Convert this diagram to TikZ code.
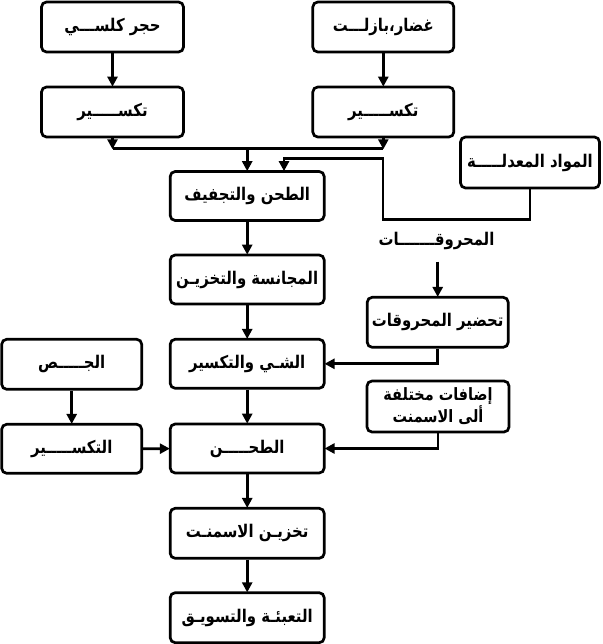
\documentclass[tikz,border=0pt]{standalone}
\usepackage{fontspec}
\usetikzlibrary{arrows.meta}
\newfontfamily\arfont[Script=Arabic,FakeStretch=0.85]{DejaVu Sans}
\TeXXeTstate=1
\tikzset{
  box/.style={draw, line width=2.7pt, rounded corners=5pt, inner sep=0pt,
    font=\arfont\bfseries\fontsize{17.5}{19}\selectfont, align=center},
  conn/.style={line width=2.7pt},
  arr/.style={conn, -{Triangle[length=10pt,width=10pt]}, shorten >=-1pt},
  lbl/.style={font=\arfont\bfseries\fontsize{17.5}{19}\selectfont}
}
\begin{document}
\begin{tikzpicture}[x=1pt,y=-1pt]
\useasboundingbox (0,0) rectangle (602,644);
% boxes
\node[box, minimum width=142pt, minimum height=50pt] (A) at (112.5,27) {\beginR حجر كلســـي\endR};
\node[box, minimum width=141pt, minimum height=50pt] (B) at (383.3,27) {\beginR غضار،بازلـــت\endR};
\node[box, minimum width=142pt, minimum height=50pt] (C) at (112.5,112) {\beginR تكســـــير\endR};
\node[box, minimum width=141pt, minimum height=50pt] (D) at (383.3,112) {\beginR تكســـــير\endR};
\node[box, minimum width=154pt, minimum height=49pt] (E) at (247.2,196) {\beginR الطحن والتجفيف\endR};
\node[box, minimum width=139pt, minimum height=51pt] (F) at (530,162.5) {\beginR المواد المعدلـــــة\endR};
\node[lbl] (lab) at (436.5,241) {\beginR المحروقـــــــات\endR};
\node[box, minimum width=154pt, minimum height=49pt] (G) at (247.2,279.5) {\beginR المجانسة والتخزيـن\endR};
\node[box, minimum width=141pt, minimum height=50pt] (H) at (437.7,322.3) {\beginR تحضير المحروقات\endR};
\node[box, minimum width=154pt, minimum height=49pt] (I) at (247.2,363.8) {\beginR الشـي والتكسير\endR};
\node[box, minimum width=140pt, minimum height=50pt] (J) at (71.7,364.3) {\beginR الجـــــص\endR};
\node[box, minimum width=140pt, minimum height=49pt] (K) at (71.7,448.8) {\beginR التكســـــير\endR};
\node[box, minimum width=142pt, minimum height=51pt, font=\arfont\bfseries\fontsize{17}{17.5}\selectfont] (L) at (438,406.5) {\beginR إضافات مختلفة\endR\\\beginR ألى الاسمنت\endR};
\node[box, minimum width=154pt, minimum height=49pt] (M) at (247.2,448.5) {\beginR الطحـــــن\endR};
\node[box, minimum width=154pt, minimum height=50pt] (N) at (247.2,533.3) {\beginR تخزيـن الاسمنـت\endR};
\node[box, minimum width=154pt, minimum height=50pt] (O) at (247.2,617.7) {\beginR التعبئـة والتسويـق\endR};
% coordinates
\coordinate (cl) at (C.south |- 0,148.3);
\coordinate (dl) at (D.south |- 0,148.3);
\coordinate (ml) at (E.north |- 0,148.3);
\coordinate (f1) at (F.south |- 0,219.3);
\coordinate (f2) at (383,219.3);
\coordinate (f3) at (383,158.3);
\coordinate (f4) at (284,158.3);
\coordinate (f5) at (284,0 |- E.north);
\coordinate (lt) at (H.north |- 0,261.7);
\coordinate (h1) at (H.south |- I.east);
\coordinate (l1) at (L.south |- M.east);
% connectors
\draw[arr] (A) -- (C);
\draw[arr] (B) -- (D);
\draw[arr] (C.south) -- (cl);
\draw[arr] (D.south) -- (dl);
\draw[conn] (cl) -- (dl);
\draw[arr] (ml) -- (E.north);
\draw[arr] (F.south) -- (f1) -- (f2) -- (f3) -- (f4) -- (f5);
\draw[arr] (lt) -- (H.north);
\draw[arr] (E) -- (G);
\draw[arr] (G) -- (I);
\draw[arr] (H.south) -- (h1) -- (I.east);
\draw[arr] (J) -- (K);
\draw[arr] (I) -- (M);
\draw[arr] (K) -- (M);
\draw[arr] (L.south) -- (l1) -- (M.east);
\draw[arr] (M) -- (N);
\draw[arr] (N) -- (O);
\end{tikzpicture}
\end{document}
